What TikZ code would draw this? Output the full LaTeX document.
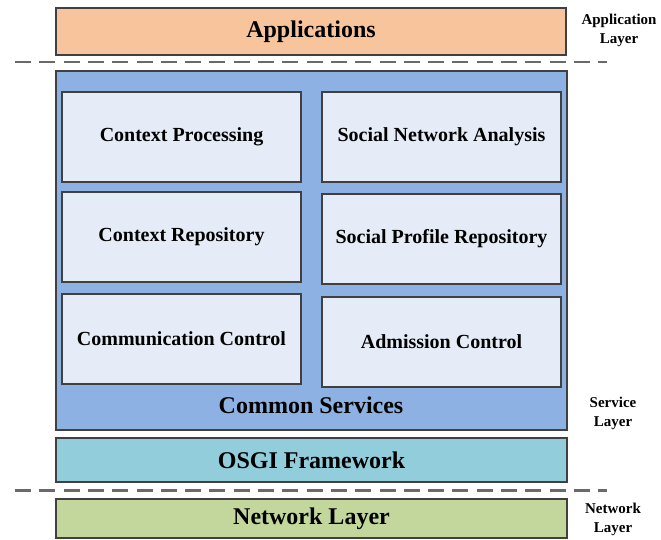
\documentclass[tikz,border=0pt]{standalone}
\usepackage{fontspec}
\setmainfont{Liberation Serif}
\definecolor{appfill}{HTML}{F8C49C}
\definecolor{commonfill}{HTML}{8EB1E3}
\definecolor{innerfill}{HTML}{E6ECF7}
\definecolor{osgifill}{HTML}{92CDDC}
\definecolor{netfill}{HTML}{C3D69B}
\definecolor{edge}{HTML}{404040}
\definecolor{dashcol}{HTML}{6A6A6A}
\begin{document}
\begin{tikzpicture}[x=1pt,y=-1pt,
  box/.style={draw=edge,line width=1.4pt,anchor=north west,inner sep=0pt,outer sep=0pt,align=center},
  inner/.style={box,fill=innerfill,minimum width=239pt,minimum height=90pt,font=\fontsize{20}{24}\selectfont\bfseries},
  big/.style={font=\fontsize{24}{28}\selectfont\bfseries},
  side/.style={align=center,font=\fontsize{15}{19}\selectfont\bfseries},
  sep/.style={draw=dashcol,line width=2.5pt,dash pattern=on 16pt off 8.3pt}]
\useasboundingbox (0,0) rectangle (661,540);
\node[box,fill=appfill,minimum width=510pt,minimum height=47pt,big] (app) at (56,8) {Applications};
\node[box,fill=commonfill,minimum width=511pt,minimum height=359pt] (common) at (56,71) {};
\node[inner] (cp) at (62,92) {Context Processing};
\node[inner] (cr) at (62,192) {Context Repository};
\node[inner] (cc) at (62,294) {Communication Control};
\node[inner] (sna) at (322,92) {Social Network Analysis};
\node[inner] (spr) at (322,194) {Social Profile Repository};
\node[inner] (ac) at (322,297) {Admission Control};
\node[big] (cs) at (311,405) {Common Services};
\node[box,fill=osgifill,minimum width=511pt,minimum height=44pt,big] (osgi) at (56,438) {OSGI Framework};
\node[box,fill=netfill,minimum width=511pt,minimum height=39pt,big] (net) at (56,499) {Network Layer};
\coordinate (d1a) at (15,62);
\coordinate (d1b) at (607,62);
\coordinate (d2a) at (15,490.5);
\coordinate (d2b) at (607,490.5);
\draw[sep] (d1a) -- (d1b);
\draw[sep] (d2a) -- (d2b);
\node[side] (lapp) at (619,30) {Application\\Layer};
\node[side] (lserv) at (613,413) {Service\\Layer};
\node[side] (lnet) at (613,519) {Network\\Layer};
\end{tikzpicture}
\end{document}
